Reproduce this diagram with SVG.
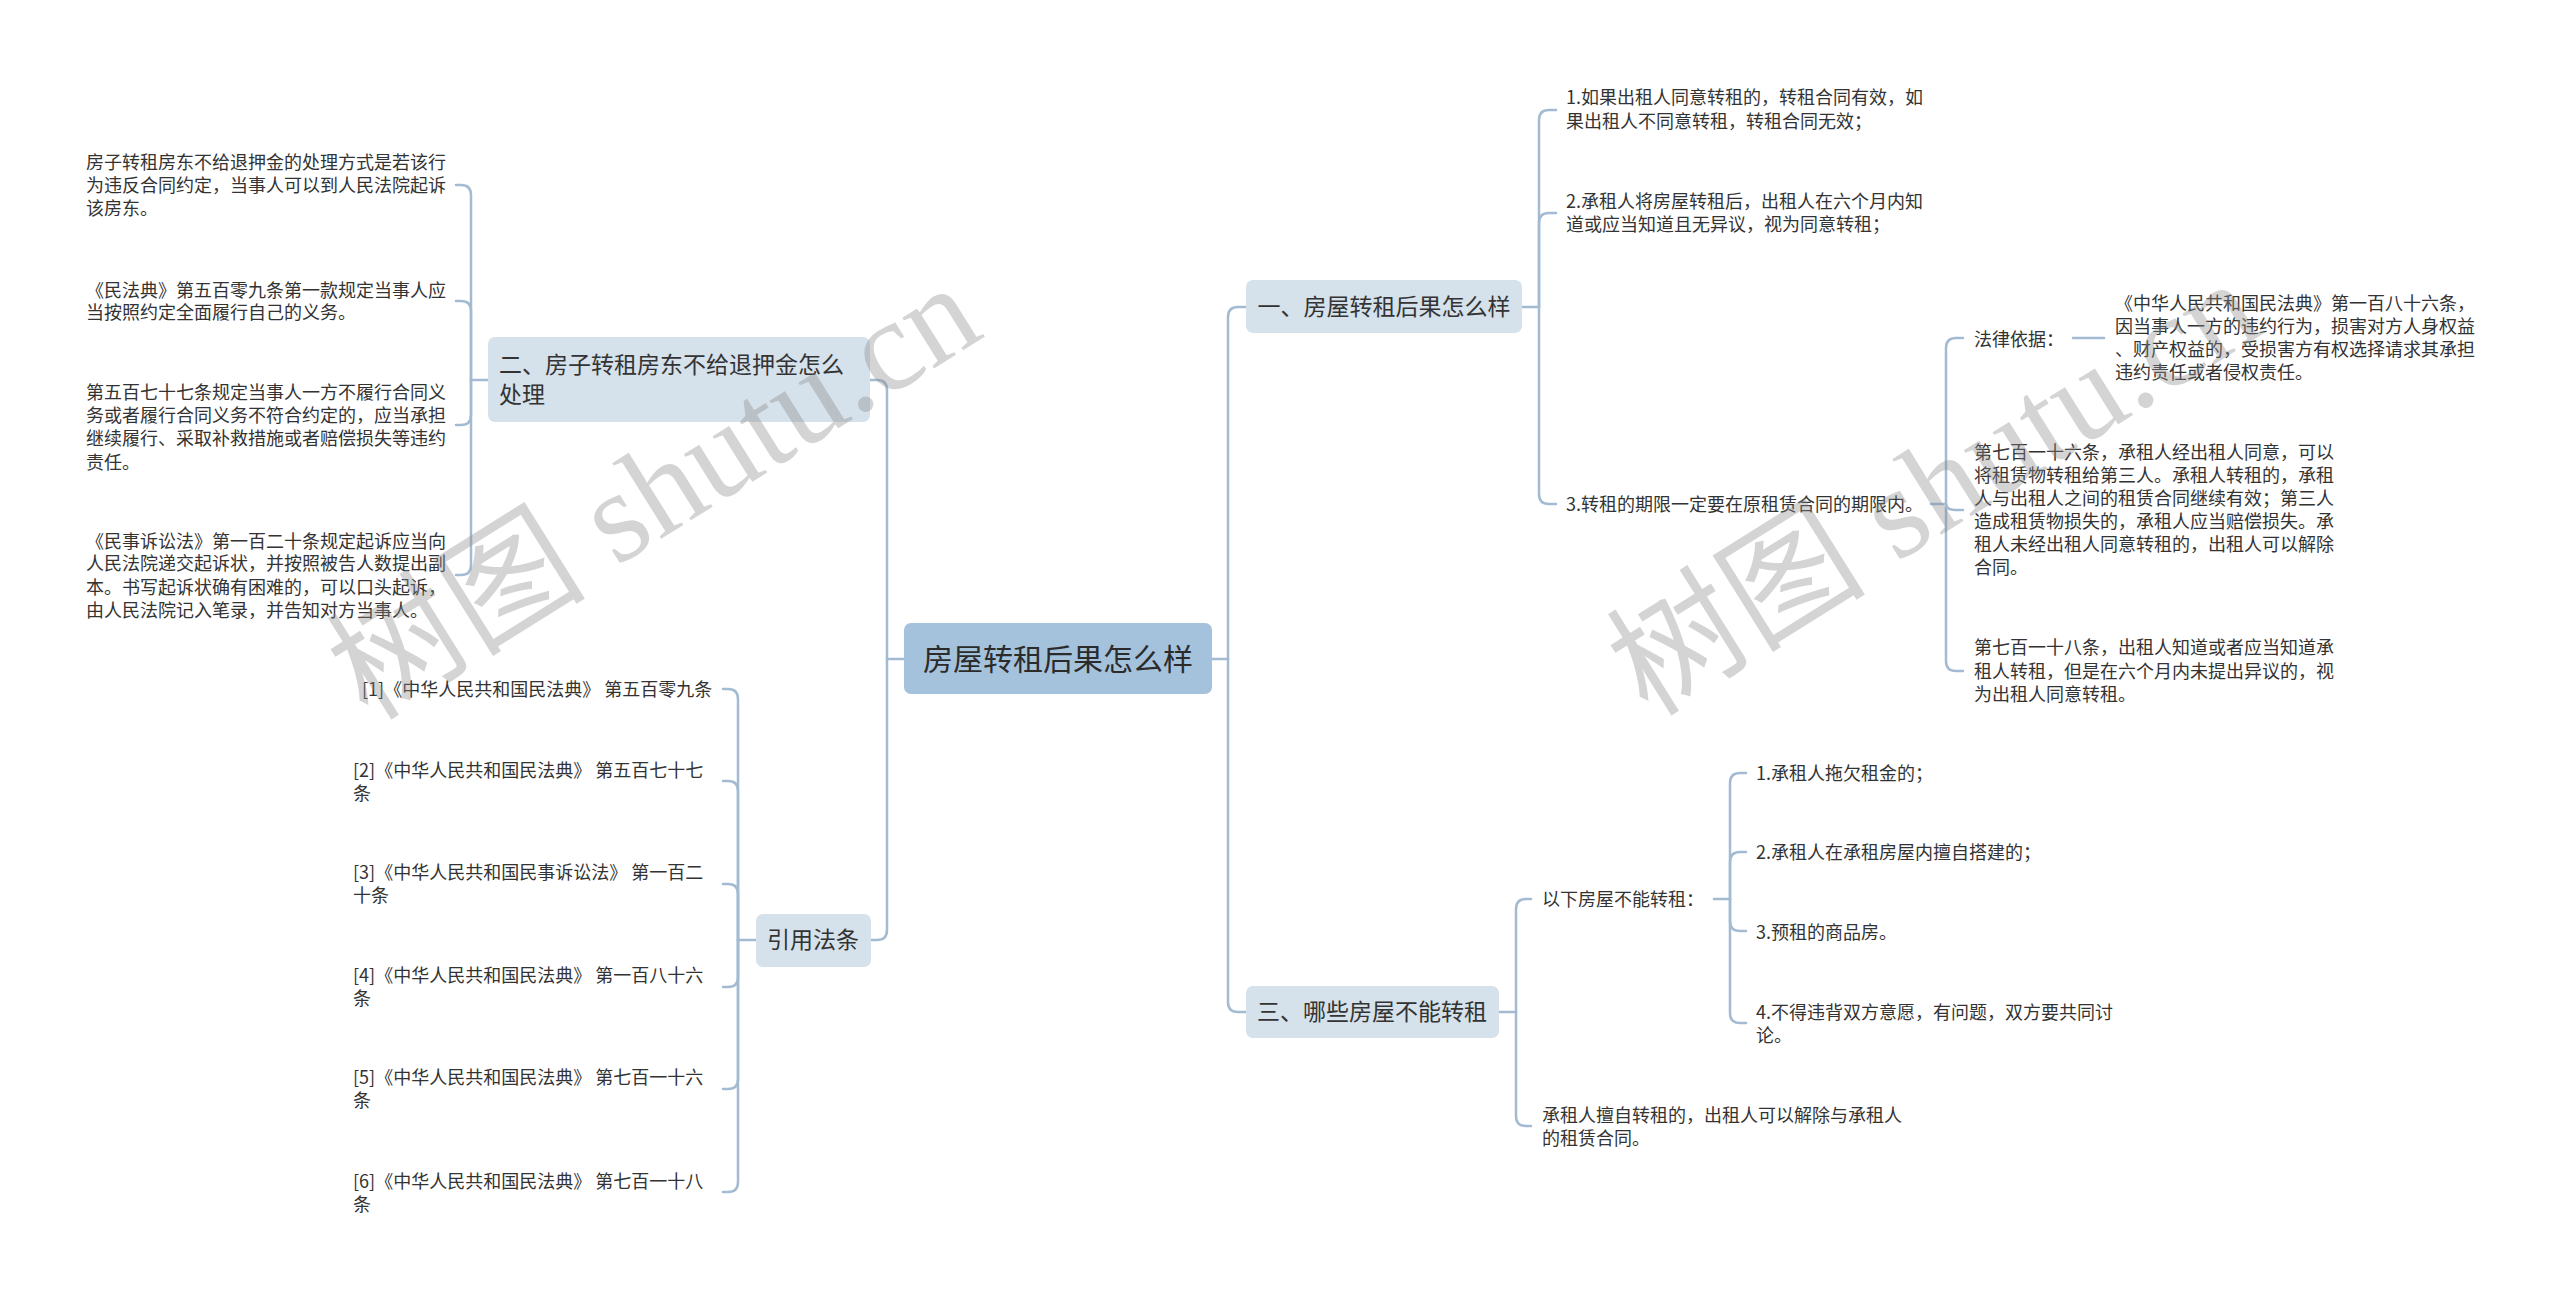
<svg xmlns="http://www.w3.org/2000/svg" width="2560" height="1299" viewBox="0 0 2560 1299">
<style>
  .bg { fill: #ffffff; }
  .t { font-family: "Noto Sans CJK SC", "Liberation Sans", sans-serif; font-size: 18px; fill: #333333; }
  .tb { font-family: "Noto Sans CJK SC", "Liberation Sans", sans-serif; font-size: 23px; fill: #333333; }
  .tr { font-family: "Noto Sans CJK SC", "Liberation Sans", sans-serif; font-size: 30px; fill: #2b2b2b; }
  .root { fill: #a5c2dd; }
  .branch { fill: #d5e1eb; }
  .conn path { fill: none; stroke: #a2bbd2; stroke-width: 2.5; stroke-linecap: round; }
  .wm { font-family: "Liberation Serif", "Noto Sans CJK SC", serif; font-size: 130px; fill: #8a8a8a; opacity: 0.36; }
</style>
<rect class="bg" x="0" y="0" width="2560" height="1299"/>

<g id="connectors" class="conn">
  <!-- root right -->
  <path d="M1212,659 H1228"/>
  <path d="M1228,659 V317 Q1228,307 1238,307 H1246"/>
  <path d="M1228,659 V1002 Q1228,1012 1238,1012 H1246"/>
  <!-- root left -->
  <path d="M904,659 H887"/>
  <path d="M887,659 V390 Q887,380 877,380 H870"/>
  <path d="M887,659 V930 Q887,940 877,940 H871"/>
  <!-- branch 1 -->
  <path d="M1522,307 H1539"/>
  <path d="M1539,307 V120 Q1539,110 1549,110 H1556"/>
  <path d="M1539,307 V223 Q1539,213 1549,213 H1556"/>
  <path d="M1539,307 V494 Q1539,504 1549,504 H1556"/>
  <!-- item 3 -->
  <path d="M1931,504 H1946"/>
  <path d="M1946,504 V348 Q1946,338 1956,338 H1963"/>
  <path d="M1946,504 Q1946,510 1956,510 H1963"/>
  <path d="M1946,504 V661 Q1946,671 1956,671 H1963"/>
  <path d="M2073,338 H2104"/>
  <!-- branch 3 -->
  <path d="M1499,1012 H1516"/>
  <path d="M1516,1012 V909 Q1516,899 1526,899 H1531"/>
  <path d="M1516,1012 V1116 Q1516,1126 1526,1126 H1531"/>
  <path d="M1714,899 H1730"/>
  <path d="M1730,899 V783 Q1730,773 1740,773 H1746"/>
  <path d="M1730,899 V862 Q1730,852 1740,852 H1746"/>
  <path d="M1730,899 V921 Q1730,931 1740,931 H1746"/>
  <path d="M1730,899 V1013 Q1730,1023 1740,1023 H1746"/>
  <!-- branch 2 -->
  <path d="M488,380 H471"/>
  <path d="M471,380 V195 Q471,185 461,185 H456"/>
  <path d="M471,380 V311 Q471,301 461,301 H456"/>
  <path d="M471,380 V415 Q471,425 461,425 H456"/>
  <path d="M471,380 V565 Q471,575 461,575 H456"/>
  <!-- citations -->
  <path d="M756,940 H738"/>
  <path d="M738,940 V699 Q738,689 728,689 H723"/>
  <path d="M738,940 V791 Q738,781 728,781 H723"/>
  <path d="M738,940 V894 Q738,884 728,884 H723"/>
  <path d="M738,940 V977 Q738,987 728,987 H723"/>
  <path d="M738,940 V1079 Q738,1089 728,1089 H723"/>
  <path d="M738,940 V1182 Q738,1192 728,1192 H723"/>
</g>

<g id="root">
  <rect class="root" x="904" y="623" width="308" height="71" rx="7"/>
  <text class="tr" x="1058" y="670" text-anchor="middle">房屋转租后果怎么样</text>
</g>

<g id="b1">
  <rect class="branch" x="1246" y="280" width="276" height="53" rx="7"/>
  <text class="tb" x="1384" y="315" text-anchor="middle">一、房屋转租后果怎么样</text>
</g>
<g id="b1-1">
  <text class="t" x="1566" y="104">1.如果出租人同意转租的，转租合同有效，如</text>
  <text class="t" x="1566" y="128">果出租人不同意转租，转租合同无效；</text>
</g>
<g id="b1-2">
  <text class="t" x="1566" y="208">2.承租人将房屋转租后，出租人在六个月内知</text>
  <text class="t" x="1566" y="231">道或应当知道且无异议，视为同意转租；</text>
</g>
<g id="b1-3">
  <text class="t" x="1566" y="511">3.转租的期限一定要在原租赁合同的期限内。</text>
</g>
<g id="b1-3-1">
  <text class="t" x="1974" y="346">法律依据：</text>
</g>
<g id="b1-3-1-1">
  <text class="t" x="2115" y="310">《中华人民共和国民法典》第一百八十六条，</text>
  <text class="t" x="2115" y="333">因当事人一方的违约行为，损害对方人身权益</text>
  <text class="t" x="2115" y="356">、财产权益的，受损害方有权选择请求其承担</text>
  <text class="t" x="2115" y="379">违约责任或者侵权责任。</text>
</g>
<g id="b1-3-2">
  <text class="t" x="1974" y="459">第七百一十六条，承租人经出租人同意，可以</text>
  <text class="t" x="1974" y="482">将租赁物转租给第三人。承租人转租的，承租</text>
  <text class="t" x="1974" y="505">人与出租人之间的租赁合同继续有效；第三人</text>
  <text class="t" x="1974" y="528">造成租赁物损失的，承租人应当赔偿损失。承</text>
  <text class="t" x="1974" y="551">租人未经出租人同意转租的，出租人可以解除</text>
  <text class="t" x="1974" y="574">合同。</text>
</g>
<g id="b1-3-3">
  <text class="t" x="1974" y="654">第七百一十八条，出租人知道或者应当知道承</text>
  <text class="t" x="1974" y="678">租人转租，但是在六个月内未提出异议的，视</text>
  <text class="t" x="1974" y="701">为出租人同意转租。</text>
</g>

<g id="b3">
  <rect class="branch" x="1246" y="986" width="253" height="52" rx="7"/>
  <text class="tb" x="1372" y="1020" text-anchor="middle">三、哪些房屋不能转租</text>
</g>
<g id="b3-1">
  <text class="t" x="1542" y="906">以下房屋不能转租：</text>
</g>
<g id="b3-1-1"><text class="t" x="1756" y="780">1.承租人拖欠租金的；</text></g>
<g id="b3-1-2"><text class="t" x="1756" y="859">2.承租人在承租房屋内擅自搭建的；</text></g>
<g id="b3-1-3"><text class="t" x="1756" y="939">3.预租的商品房。</text></g>
<g id="b3-1-4">
  <text class="t" x="1756" y="1019">4.不得违背双方意愿，有问题，双方要共同讨</text>
  <text class="t" x="1756" y="1042">论。</text>
</g>
<g id="b3-2">
  <text class="t" x="1542" y="1122">承租人擅自转租的，出租人可以解除与承租人</text>
  <text class="t" x="1542" y="1145">的租赁合同。</text>
</g>

<g id="b2">
  <rect class="branch" x="488" y="337" width="382" height="85" rx="7"/>
  <text class="tb" x="499" y="373">二、房子转租房东不给退押金怎么</text>
  <text class="tb" x="499" y="403">处理</text>
</g>
<g id="b2-1">
  <text class="t" x="86" y="169">房子转租房东不给退押金的处理方式是若该行</text>
  <text class="t" x="86" y="192">为违反合同约定，当事人可以到人民法院起诉</text>
  <text class="t" x="86" y="215">该房东。</text>
</g>
<g id="b2-2">
  <text class="t" x="86" y="297">《民法典》第五百零九条第一款规定当事人应</text>
  <text class="t" x="86" y="319">当按照约定全面履行自己的义务。</text>
</g>
<g id="b2-3">
  <text class="t" x="86" y="399">第五百七十七条规定当事人一方不履行合同义</text>
  <text class="t" x="86" y="422">务或者履行合同义务不符合约定的，应当承担</text>
  <text class="t" x="86" y="445">继续履行、采取补救措施或者赔偿损失等违约</text>
  <text class="t" x="86" y="469">责任。</text>
</g>
<g id="b2-4">
  <text class="t" x="86" y="548">《民事诉讼法》第一百二十条规定起诉应当向</text>
  <text class="t" x="86" y="570">人民法院递交起诉状，并按照被告人数提出副</text>
  <text class="t" x="86" y="594">本。书写起诉状确有困难的，可以口头起诉，</text>
  <text class="t" x="86" y="617">由人民法院记入笔录，并告知对方当事人。</text>
</g>

<g id="b4">
  <rect class="branch" x="756" y="914" width="115" height="53" rx="7"/>
  <text class="tb" x="813" y="948" text-anchor="middle">引用法条</text>
</g>
<g id="b4-1"><text class="t" x="362" y="696">[1]《中华人民共和国民法典》 第五百零九条</text></g>
<g id="b4-2">
  <text class="t" x="353" y="777">[2]《中华人民共和国民法典》 第五百七十七</text>
  <text class="t" x="353" y="800">条</text>
</g>
<g id="b4-3">
  <text class="t" x="353" y="879">[3]《中华人民共和国民事诉讼法》 第一百二</text>
  <text class="t" x="353" y="902">十条</text>
</g>
<g id="b4-4">
  <text class="t" x="353" y="982">[4]《中华人民共和国民法典》 第一百八十六</text>
  <text class="t" x="353" y="1005">条</text>
</g>
<g id="b4-5">
  <text class="t" x="353" y="1084">[5]《中华人民共和国民法典》 第七百一十六</text>
  <text class="t" x="353" y="1107">条</text>
</g>
<g id="b4-6">
  <text class="t" x="353" y="1188">[6]《中华人民共和国民法典》 第七百一十八</text>
  <text class="t" x="353" y="1211">条</text>
</g>

<g id="watermarks">
  <text class="wm" x="368" y="722" transform="rotate(-32 368 722)">树图 shutu.cn</text>
  <text class="wm" x="1648" y="718" transform="rotate(-32 1648 718)">树图 shutu.cn</text>
</g>
</svg>
